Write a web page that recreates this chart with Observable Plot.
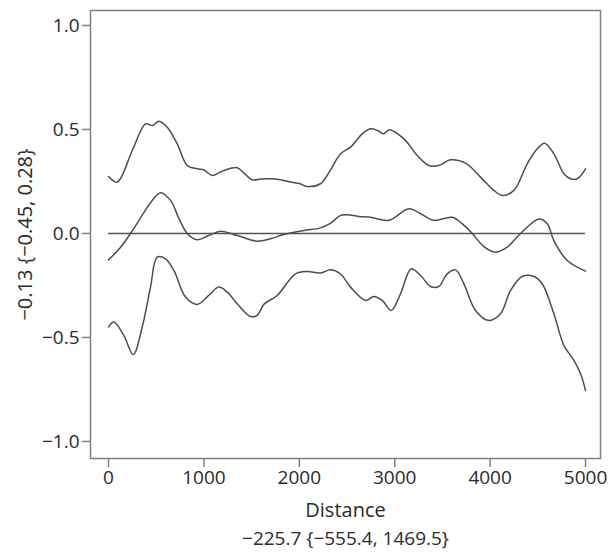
<!DOCTYPE html>
<html>
<head>
<meta charset="utf-8">
<script src="https://cdn.jsdelivr.net/npm/d3@7"></script>
<script src="https://cdn.jsdelivr.net/npm/@observablehq/plot@0.6"></script>
<style>
  html, body { margin: 0; padding: 0; background: #fff; }
</style>
</head>
<body>
<div id="chart"></div>
<script>
// Upper band
const upperX = [0, 91, 250, 388, 460, 528, 615, 720, 825, 930, 1000, 1087, 1209, 1349, 1420, 1506, 1600, 1698, 1800, 1908, 2000, 2082, 2222, 2320, 2432, 2537, 2659, 2746, 2820, 2886, 2938, 3096, 3236, 3357, 3462, 3585, 3742, 3899, 4039, 4127, 4249, 4389, 4494, 4570, 4668, 4773, 4843, 4913, 5000];
const upperY = [0.274, 0.247, 0.40, 0.527, 0.519, 0.54, 0.511, 0.431, 0.327, 0.311, 0.305, 0.279, 0.303, 0.316, 0.29, 0.258, 0.262, 0.263, 0.258, 0.247, 0.24, 0.226, 0.239, 0.30, 0.383, 0.415, 0.479, 0.503, 0.495, 0.479, 0.498, 0.455, 0.375, 0.327, 0.327, 0.354, 0.338, 0.271, 0.207, 0.183, 0.207, 0.335, 0.407, 0.434, 0.383, 0.287, 0.263, 0.263, 0.311];
// Central estimate
const midX = [0, 120, 231, 370, 460, 545, 650, 740, 825, 930, 1050, 1174, 1349, 1559, 1700, 1838, 2047, 2222, 2330, 2432, 2502, 2620, 2746, 2938, 3148, 3271, 3410, 3602, 3707, 3812, 3934, 4057, 4179, 4319, 4512, 4599, 4668, 4808, 5000];
const midY = [-0.127, -0.07, 0.0, 0.10, 0.16, 0.196, 0.159, 0.07, 0.0, -0.03, -0.01, 0.011, -0.01, -0.037, -0.025, -0.005, 0.014, 0.027, 0.05, 0.087, 0.09, 0.082, 0.078, 0.063, 0.119, 0.095, 0.063, 0.078, 0.047, 0.0, -0.063, -0.09, -0.066, 0.0, 0.07, 0.047, -0.034, -0.13, -0.181];
// Lower band
const lowerX = [0, 56, 160, 259, 353, 440, 510, 597, 685, 807, 930, 1051, 1156, 1244, 1349, 1488, 1559, 1628, 1768, 1960, 2082, 2222, 2327, 2432, 2537, 2694, 2781, 2869, 2963, 3061, 3173, 3271, 3375, 3462, 3550, 3637, 3725, 3847, 3986, 4109, 4214, 4336, 4458, 4546, 4668, 4773, 4878, 4948, 5000];
const lowerY = [-0.45, -0.426, -0.49, -0.582, -0.45, -0.258, -0.114, -0.122, -0.178, -0.306, -0.341, -0.298, -0.258, -0.282, -0.338, -0.399, -0.394, -0.341, -0.298, -0.194, -0.183, -0.19, -0.175, -0.195, -0.258, -0.322, -0.303, -0.322, -0.37, -0.29, -0.17, -0.202, -0.255, -0.255, -0.194, -0.175, -0.242, -0.37, -0.418, -0.386, -0.274, -0.207, -0.207, -0.242, -0.386, -0.538, -0.61, -0.675, -0.755];

const xTicks = [0, 1000, 2000, 3000, 4000, 5000];
const yTicks = [-1.0, -0.5, 0.0, 0.5, 1.0];
const xLabel = "Distance";
const xCaption = "\u2212225.7 {\u2212555.4, 1469.5}";
const yLabel = "\u22120.13 {\u22120.45, 0.28}";

const toRows = (xs, ys) => xs.map((x, i) => ({x, y: ys[i]}));
const upper = toRows(upperX, upperY);
const mid = toRows(midX, midY);
const lower = toRows(lowerX, lowerY);

const lineColor = "#4d4d4d";
const textColor = "#2a2a2a";
const fs = 19;
const fmt = d => (d < 0 ? "\u2212" : "") + Math.abs(d).toFixed(1);

const chart = Plot.plot({
  width: 610,
  height: 553,
  marginTop: 10,
  marginBottom: 95,
  marginLeft: 90,
  marginRight: 10,
  style: {fontFamily: "'Open Sans', sans-serif", fontSize: fs + "px", color: textColor, background: "#fff"},
  x: {domain: [-189, 5157], ticks: xTicks},
  y: {domain: [-1.082, 1.072], ticks: yTicks},
  marks: [
    Plot.frame({stroke: "#808080", strokeWidth: 1.5}),
    Plot.axisX(xTicks, {tickSize: 9, tickPadding: 3, stroke: "#808080", strokeWidth: 1.5, fill: textColor, fontSize: fs, label: null, tickFormat: d => String(d)}),
    Plot.axisY(yTicks, {tickSize: 8, tickPadding: 3, stroke: "#808080", strokeWidth: 1.5, fill: textColor, fontSize: fs, label: null, tickFormat: fmt}),
    Plot.ruleY([0], {x1: 0, x2: 5000, stroke: "#555", strokeWidth: 1.5}),
    Plot.line(upper, {x: "x", y: "y", stroke: lineColor, strokeWidth: 1.5, curve: "catmull-rom"}),
    Plot.line(mid, {x: "x", y: "y", stroke: lineColor, strokeWidth: 1.5, curve: "catmull-rom"}),
    Plot.line(lower, {x: "x", y: "y", stroke: lineColor, strokeWidth: 1.5, curve: "catmull-rom"}),
    Plot.text([xLabel], {frameAnchor: "bottom", dy: 58, fontSize: 20, fill: textColor}),
    Plot.text([xCaption], {frameAnchor: "bottom", dy: 86, fontSize: fs, fill: textColor}),
    Plot.text([yLabel], {frameAnchor: "left", dx: -65, rotate: -90, textAnchor: "middle", fontSize: 20, fill: textColor})
  ]
});
document.getElementById("chart").append(chart);
</script>
</body>
</html>
